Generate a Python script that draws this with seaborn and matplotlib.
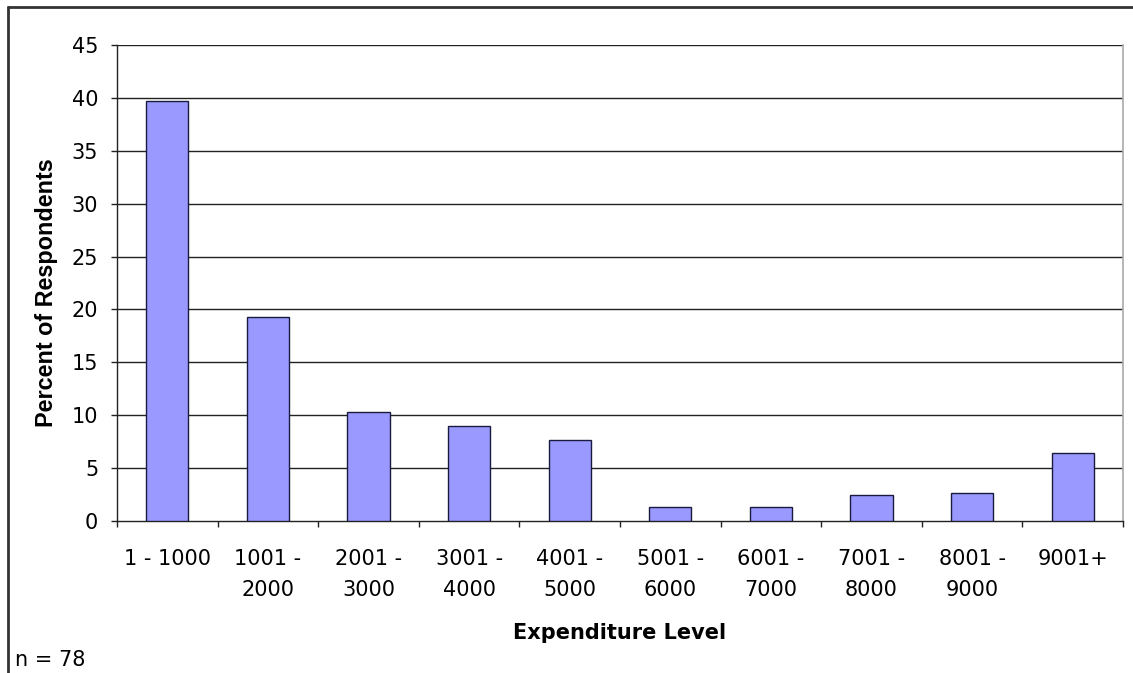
import numpy as np
import pandas as pd
import matplotlib
matplotlib.use("Agg")
import matplotlib.pyplot as plt
import seaborn as sns
from matplotlib.lines import Line2D

categories = ["1 - 1000", "1001 -\n2000", "2001 -\n3000", "3001 -\n4000", "4001 -\n5000",
              "5001 -\n6000", "6001 -\n7000", "7001 -\n8000", "8001 -\n9000", "9001+"]
values = [39.7, 19.3, 10.3, 9.0, 7.7, 1.3, 1.3, 2.5, 2.6, 6.4]
y_ticks = [0, 5, 10, 15, 20, 25, 30, 35, 40, 45]

sns.set_style("white")
plt.rcParams['font.family'] = ['DejaVu Sans']
plt.rcParams['text.color'] = 'black'
plt.rcParams['xtick.color'] = 'black'
plt.rcParams['ytick.color'] = 'black'

FS = 15

fig = plt.figure(figsize=(11.33, 6.73), dpi=100)
ax = fig.add_axes([117/1133, 1 - 521/673, (1123-117)/1133, (521-45)/673])

df = pd.DataFrame({"cat": categories, "val": values})
sns.barplot(data=df, x="cat", y="val", color="#9999FF", saturation=1,
            edgecolor="#1a1a40", linewidth=1, width=0.42, ax=ax, zorder=3)

ax.set_ylim(0, 45)
ax.set_xlim(-0.5, len(categories) - 0.5)
ax.set_yticks(y_ticks)
ax.set_yticklabels([str(t) for t in y_ticks], fontsize=FS)
for t in y_ticks[1:]:
    ax.axhline(t, color="#222222", linewidth=1, zorder=1)

# category boundary ticks (major), labels at centres (minor)
ax.set_xticks(np.arange(-0.5, len(categories), 1.0))
ax.set_xticklabels([""] * (len(categories) + 1))
ax.set_xticks(np.arange(len(categories)), minor=True)
ax.set_xticklabels(categories, minor=True, fontsize=FS, linespacing=1.7)
ax.tick_params(axis="x", which="major", direction="out", length=4.5, width=1,
               color="#222222", bottom=True)
ax.tick_params(axis="x", which="minor", length=0, pad=20)
ax.tick_params(axis="y", direction="out", length=4.5, width=1, color="#222222",
               left=True, pad=9)

for s in ["left", "bottom"]:
    ax.spines[s].set_visible(True)
    ax.spines[s].set_color("#222222")
    ax.spines[s].set_linewidth(1)
ax.spines["top"].set_visible(False)
ax.spines["right"].set_visible(True)
ax.spines["right"].set_color("#aaaaaa")
ax.spines["right"].set_linewidth(1.2)

ax.set_xlabel("")
ax.set_ylabel("")
fig.text(620/1133, 1 - 633/673, "Expenditure Level", ha="center", va="center",
         fontsize=FS, fontweight="bold")
fig.text(47/1133, 1 - 293/673, "Percent of Respondents", ha="center", va="center",
         rotation=90, fontsize=16.8, fontweight="bold", family="Liberation Sans")
fig.text(15/1133, 1 - 660/673, "n = 78", ha="left", va="center", fontsize=FS)

# outer chart border (top and left edges visible)
fig.add_artist(Line2D([8/1133, 1.0], [1 - 6.5/673, 1 - 6.5/673], transform=fig.transFigure,
                      color="#333333", linewidth=2))
fig.add_artist(Line2D([8/1133, 8/1133], [0, 1 - 6.5/673], transform=fig.transFigure,
                      color="#333333", linewidth=2))

fig.savefig("out.png", dpi=100, facecolor="white")
